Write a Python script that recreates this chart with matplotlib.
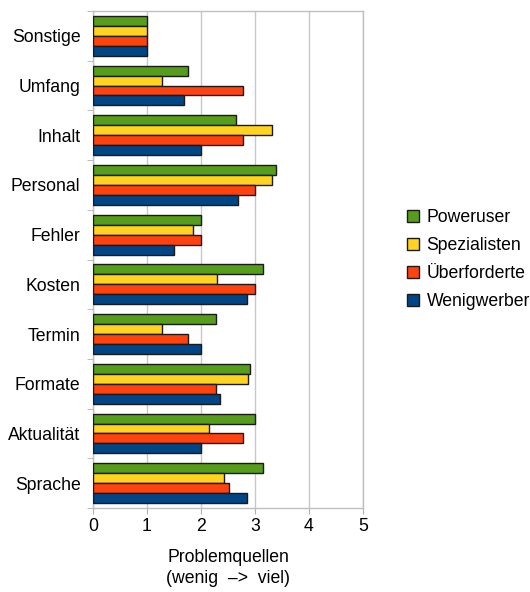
import matplotlib
matplotlib.use("Agg")
import matplotlib.pyplot as plt
import numpy as np
from matplotlib.patches import Patch

categories = ["Sonstige", "Umfang", "Inhalt", "Personal", "Fehler",
              "Kosten", "Termin", "Formate", "Aktualität", "Sprache"]
series_names = ["Poweruser", "Spezialisten", "Überforderte", "Wenigwerber"]
poweruser =    [1.0, 1.76, 2.64, 3.39, 2.0, 3.14, 2.27, 2.90, 3.0, 3.14]
spezialisten = [1.0, 1.28, 3.31, 3.31, 1.86, 2.30, 1.28, 2.87, 2.15, 2.43]
ueberforderte = [1.0, 2.77, 2.77, 3.0, 2.0, 3.0, 1.76, 2.27, 2.77, 2.51]
wenigwerber =  [1.0, 1.68, 2.0, 2.68, 1.5, 2.85, 2.0, 2.35, 2.0, 2.85]
xticks = [0, 1, 2, 3, 4, 5]

colors = ["#579D1C", "#FFD320", "#FF420E", "#004586"]
series = [poweruser, spezialisten, ueberforderte, wenigwerber]

plt.rcParams['font.family'] = ['Liberation Sans', 'DejaVu Sans']
fs = 12.7
fig = plt.figure(figsize=(5.30, 5.92), dpi=100)
ax = fig.add_axes([93/530, 1-508/592, 270/530, 497/592])

n = len(categories)
h = 0.2
idx = np.arange(n)
for k, (vals, col) in enumerate(zip(series, colors)):
    y = idx + 0.1 + h/2 + k*h
    ax.barh(y, vals, height=h, color=col, edgecolor="#1a1a1a", linewidth=1.0, zorder=3)

ax.set_ylim(n, 0)
ax.set_xlim(0, 5)
ax.set_xticks(xticks)
ax.set_xticklabels([str(t) for t in xticks], fontsize=fs)
ax.set_yticks(idx + 0.5)
ax.set_yticklabels(categories, fontsize=fs)
ax.set_yticks(np.arange(n+1), minor=True)
ax.tick_params(axis='y', which='major', length=0, pad=9)
ax.tick_params(axis='y', which='minor', length=4, color="#b0b0b0", direction='out')
ax.tick_params(axis='x', length=4, color="#b0b0b0", direction='out', pad=3)
ax.grid(axis='x', color="#c8c8c8", linewidth=1.0, zorder=0)
for s in ax.spines.values():
    s.set_color("#c0c0c0")
    s.set_linewidth(1.0)

ax.set_xlabel("Problemquellen\n(wenig  –>  viel)", fontsize=fs, linespacing=1.3, labelpad=10)

handles = [Patch(facecolor=c, edgecolor="#1a1a1a", linewidth=1.0) for c in colors]
fig.legend(handles, series_names, loc='center left', bbox_to_anchor=(0.768, 0.561),
           frameon=False, fontsize=fs, handlelength=0.65, handleheight=0.65,
           handletextpad=0.45, labelspacing=0.62, borderaxespad=0, borderpad=0)

fig.savefig("out.png", dpi=100)
